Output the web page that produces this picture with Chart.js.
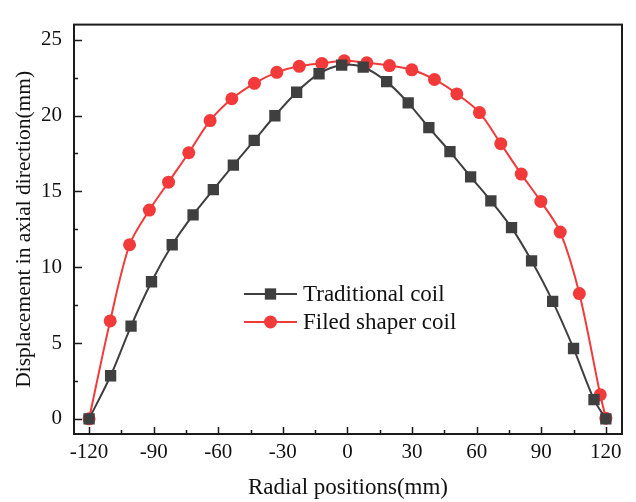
<!DOCTYPE html>
<html>
<head>
<meta charset="utf-8">
<script src="https://cdn.jsdelivr.net/npm/chart.js@4/dist/chart.umd.min.js"></script>
<style>
  html, body { margin: 0; padding: 0; background: #ffffff; }
  #wrap { width: 636px; height: 502px; }
</style>
</head>
<body>
<div id="wrap"><canvas id="c" width="636" height="502"></canvas></div>
<script>
// ---- data ----
const seriesNames = ["Traditional coil", "Filed shaper coil"];
const tradX = [-120, -110, -100.5, -91, -81.4, -71.7, -62.3, -53, -43.3, -33.7, -23.6, -13.2, -2.7, 7.3, 18.2, 28.2, 37.8, 47.6, 57.2, 66.6, 76.2, 85.5, 95.3, 105, 114.5, 120];
const tradY = [0, 2.84, 6.12, 9.04, 11.48, 13.45, 15.12, 16.73, 18.36, 19.99, 21.54, 22.76, 23.33, 23.19, 22.24, 20.84, 19.2, 17.62, 15.96, 14.38, 12.61, 10.42, 7.75, 4.64, 1.27, 0];
const shaperX = [-120, -110.2, -101.2, -92, -83.1, -73.7, -63.8, -53.7, -43.2, -32.8, -22.4, -11.9, -1.5, 9, 19.5, 29.9, 40.4, 50.8, 61.3, 71.2, 80.7, 89.8, 98.8, 107.7, 117.4, 120];
const shaperY = [0, 6.46, 11.48, 13.77, 15.61, 17.55, 19.67, 21.11, 22.13, 22.85, 23.25, 23.44, 23.61, 23.48, 23.3, 23.02, 22.38, 21.43, 20.2, 18.15, 16.14, 14.34, 12.32, 8.26, 1.59, 0.04];
const xTickLabels = [-120, -90, -60, -30, 0, 30, 60, 90, 120];
const xMinorTicks = [-105, -75, -45, -15, 15, 45, 75, 105];
const yTickLabels = [0, 5, 10, 15, 20, 25];
const yMinorTicks = [2.5, 7.5, 12.5, 17.5, 22.5];
const xTitle = "Radial positions(mm)";
const yTitle = "Displacement in axial direction(mm)";

const FONT = "'Liberation Serif', 'Times New Roman', serif";
const GREY = '#3f3f3f';
const RED = '#f23a3a';

const toPts = (xs, ys) => xs.map((x, i) => ({x: x, y: ys[i]}));

const framePlugin = {
  id: 'frame',
  afterDraw(chart) {
    const {ctx, chartArea: a, scales: {x, y}} = chart;
    ctx.save();
    ctx.strokeStyle = '#1a1a1a';
    ctx.lineWidth = 2;
    ctx.strokeRect(a.left, a.top, a.right - a.left, a.bottom - a.top);
    ctx.lineWidth = 1.5;
    ctx.beginPath();
    xTickLabels.forEach(v => { const p = Math.round(x.getPixelForValue(v)) + 0.5; ctx.moveTo(p, a.bottom); ctx.lineTo(p, a.bottom - 7); });
    xMinorTicks.forEach(v => { const p = Math.round(x.getPixelForValue(v)) + 0.5; ctx.moveTo(p, a.bottom); ctx.lineTo(p, a.bottom - 4); });
    yTickLabels.forEach(v => { const p = Math.round(y.getPixelForValue(v)) + 0.5; ctx.moveTo(a.left, p); ctx.lineTo(a.left + 8, p); });
    yMinorTicks.forEach(v => { const p = Math.round(y.getPixelForValue(v)) + 0.5; ctx.moveTo(a.left, p); ctx.lineTo(a.left + 4, p); });
    ctx.stroke();
    ctx.restore();
  }
};

const legendPlugin = {
  id: 'innerLegend',
  afterDatasetsDraw(chart) {
    const {ctx} = chart;
    const x0 = 244, x1 = 297, tx = 303, y0 = 294, dy = 28;
    ctx.save();
    chart.data.datasets.forEach((ds, i) => {
      const yy = y0 + i * dy;
      const cx = (x0 + x1) / 2;
      ctx.strokeStyle = ds.borderColor;
      ctx.lineWidth = 2;
      ctx.beginPath(); ctx.moveTo(x0, yy); ctx.lineTo(x1, yy); ctx.stroke();
      ctx.fillStyle = ds.pointBackgroundColor;
      ctx.beginPath();
      if (ds.pointStyle === 'rect') {
        const s = ds.pointRadius * Math.SQRT1_2;
        ctx.rect(cx - s, yy - s, 2 * s, 2 * s);
      } else {
        ctx.arc(cx, yy, ds.pointRadius, 0, Math.PI * 2);
      }
      ctx.fill();
      ctx.fillStyle = '#111';
      ctx.font = "23px " + FONT;
      ctx.textBaseline = 'middle';
      ctx.textAlign = 'left';
      ctx.fillText(ds.label, tx, yy + 1);
    });
    ctx.restore();
  }
};

new Chart(document.getElementById('c'), {
  type: 'line',
  data: {
    datasets: [
      {
        label: seriesNames[0],
        data: toPts(tradX, tradY),
        borderColor: GREY,
        backgroundColor: GREY,
        pointBackgroundColor: GREY,
        pointBorderColor: GREY,
        pointBorderWidth: 0,
        pointStyle: 'rect',
        pointRadius: 8,
        borderWidth: 2,
        tension: 0.3
      },
      {
        label: seriesNames[1],
        data: toPts(shaperX, shaperY),
        borderColor: RED,
        backgroundColor: RED,
        pointBackgroundColor: RED,
        pointBorderColor: RED,
        pointBorderWidth: 0,
        pointStyle: 'circle',
        pointRadius: 6.5,
        borderWidth: 2,
        tension: 0.3
      }
    ]
  },
  options: {
    responsive: false,
    animation: false,
    layout: { padding: { left: 0, top: 10, right: 14, bottom: 0 } },
    plugins: { legend: { display: false }, tooltip: { enabled: false } },
    scales: {
      x: {
        type: 'linear',
        min: -127,
        max: 127.5,
        afterFit(s) { s.height = 68; },
        afterBuildTicks(s) { s.ticks = xTickLabels.map(v => ({value: v})); },
        grid: { display: false, drawTicks: false },
        border: { display: false },
        ticks: { padding: 6, color: '#111', font: { family: FONT, size: 21 }, maxRotation: 0, autoSkip: false },
        title: { display: true, text: xTitle, color: '#111', font: { family: FONT, size: 23 }, padding: { top: 0, bottom: 0 } }
      },
      y: {
        type: 'linear',
        min: -1,
        max: 26,
        afterFit(s) { s.width = 74; },
        afterBuildTicks(s) { s.ticks = yTickLabels.map(v => ({value: v})); },
        grid: { display: false, drawTicks: false },
        border: { display: false },
        ticks: { padding: 12, color: '#111', font: { family: FONT, size: 21 } },
        title: { display: true, text: yTitle, color: '#111', font: { family: FONT, size: 21.5 }, padding: { top: 11, bottom: 0 } }
      }
    }
  },
  plugins: [framePlugin, legendPlugin]
});
</script>
</body>
</html>
